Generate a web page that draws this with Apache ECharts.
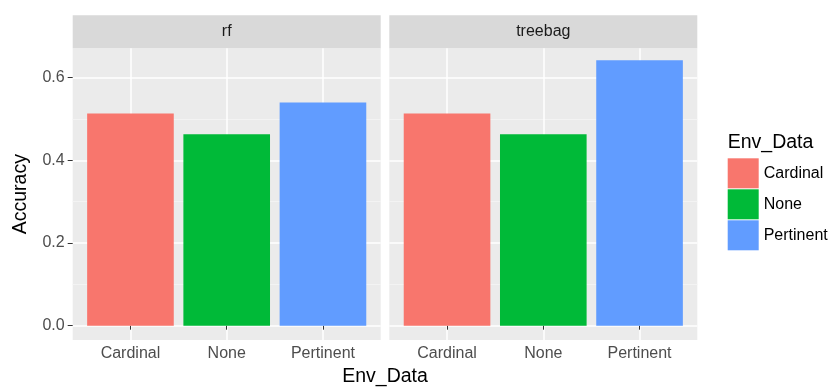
<!DOCTYPE html>
<html>
<head>
<meta charset="utf-8">
<script src="https://cdn.jsdelivr.net/npm/echarts@6/dist/echarts.min.js"></script>
<style>
  html, body { margin: 0; padding: 0; background: #fff; }
  #chart { width: 828px; height: 389px; }
</style>
</head>
<body>
<div id="chart"></div>
<script>
// data
const categories = ['Cardinal', 'None', 'Pertinent']
const panels = ['rf', 'treebag']
const rfAccuracy = [0.513, 0.463, 0.540]
const treebagAccuracy = [0.513, 0.463, 0.642]
const yTicks = [0, 0.2, 0.4, 0.6]
const yMinorTicks = [0.1, 0.3, 0.5]
const colors = ['#F8766D', '#00BA38', '#619CFF']

const values = [rfAccuracy, treebagAccuracy]
const font = '"Liberation Sans", Arial, Helvetica, sans-serif'
const yMin = -0.0346
const yMax = 0.671

// panel geometry
const panelTop = 48.3
const panelHeight = 291.7
const panelWidth = 308
const panelLefts = [72.7, 389.3]
const stripTop = 15.3
const stripHeight = 33

const chart = echarts.init(document.getElementById('chart'))

const grid = panelLefts.map(left => ({
  left: left,
  top: panelTop,
  width: panelWidth,
  height: panelHeight,
  show: true,
  backgroundColor: '#EBEBEB',
  borderWidth: 0
}))

const catTicks = categories.map((c, i) => i + 1)

const xAxis = panelLefts.map((l, p) => ({
  type: 'value',
  gridIndex: p,
  min: 0.4,
  max: 3.6,
  axisLine: { show: false },
  axisTick: { show: true, customValues: catTicks, length: 4, lineStyle: { color: '#333', width: 1 } },
  axisLabel: {
    customValues: catTicks,
    formatter: v => categories[Math.round(v) - 1],
    color: '#4D4D4D',
    fontSize: 16,
    fontFamily: font,
    margin: 6
  },
  splitLine: { show: true, lineStyle: { color: '#fff', width: 1.5 } }
}))

const yAxis = []
panelLefts.forEach((l, p) => {
  yAxis.push({
    type: 'value',
    gridIndex: p,
    min: yMin,
    max: yMax,
    axisLine: { show: false },
    axisTick: { show: p === 0, customValues: yTicks, length: 5, lineStyle: { color: '#333', width: 1 } },
    axisLabel: {
      show: p === 0,
      customValues: yTicks,
      formatter: v => v.toFixed(1),
      color: '#4D4D4D',
      fontSize: 16,
      fontFamily: font,
      margin: 8
    },
    splitLine: { show: true, lineStyle: { color: '#fff', width: 1.5 } },
    name: p === 0 ? 'Accuracy' : '',
    nameLocation: 'middle',
    nameRotate: 90,
    nameGap: 42,
    nameTextStyle: { color: '#000', fontSize: 19.5, fontFamily: font }
  })
})
// minor grid lines
panelLefts.forEach((l, p) => {
  yAxis.push({
    type: 'value',
    gridIndex: p,
    min: yMin,
    max: yMax,
    axisLine: { show: false },
    axisTick: { show: false, customValues: yMinorTicks },
    axisLabel: { show: false, customValues: yMinorTicks },
    splitLine: { show: true, lineStyle: { color: '#F5F5F5', width: 0.8 } }
  })
})

const series = []
panels.forEach((panel, p) => {
  categories.forEach((cat, i) => {
    series.push({
      name: cat,
      type: 'bar',
      xAxisIndex: p,
      yAxisIndex: p,
      barWidth: '90%',
      barGap: '-100%',
      itemStyle: { color: colors[i] },
      data: [[i + 1, values[p][i]]]
    })
  })
})

const graphic = []
panels.forEach((panel, p) => {
  graphic.push({
    type: 'rect',
    shape: { x: panelLefts[p], y: stripTop, width: panelWidth, height: stripHeight },
    style: { fill: '#D9D9D9' },
    silent: true
  })
  graphic.push({
    type: 'text',
    x: panelLefts[p] + panelWidth / 2,
    y: stripTop + stripHeight / 2,
    style: { text: panel, fill: '#1A1A1A', font: '16px ' + font, textAlign: 'center', textVerticalAlign: 'middle' },
    silent: true
  })
})
graphic.push({
  type: 'text',
  x: (panelLefts[0] + panelLefts[1] + panelWidth) / 2,
  y: 377,
  style: { text: 'Env_Data', fill: '#000', font: '19.5px ' + font, textAlign: 'center', textVerticalAlign: 'middle' }
})
graphic.push({
  type: 'text',
  x: 727.7,
  y: 143,
  style: { text: 'Env_Data', fill: '#000', font: '19.5px ' + font, textAlign: 'left', textVerticalAlign: 'middle' }
})

chart.setOption({
  animation: false,
  backgroundColor: '#fff',
  grid: grid,
  xAxis: xAxis,
  yAxis: yAxis,
  legend: {
    data: categories,
    orient: 'vertical',
    left: 727.7,
    top: 158.3,
    padding: 0,
    itemWidth: 31,
    itemHeight: 30,
    itemGap: 1,
    icon: 'rect',
    selectedMode: false,
    textStyle: { color: '#000', fontSize: 16, fontFamily: font }
  },
  series: series,
  graphic: graphic
})
</script>
</body>
</html>
